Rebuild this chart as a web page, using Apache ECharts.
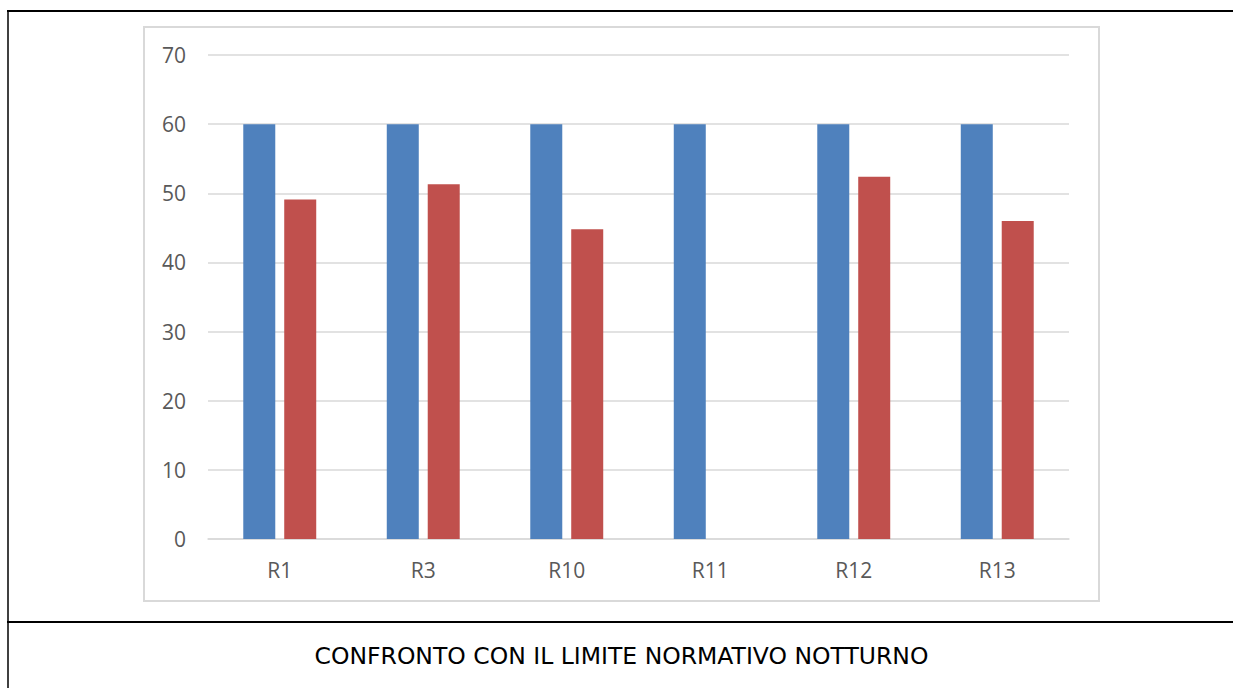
<!DOCTYPE html>
<html>
<head>
<meta charset="utf-8">
<script src="https://cdn.jsdelivr.net/npm/echarts@6/dist/echarts.min.js"></script>
<style>
html,body{margin:0;padding:0;background:#fff;}
#chart{width:1233px;height:688px;}
</style>
</head>
<body>
<div id="chart"></div>
<script>
const categories = ['R1', 'R3', 'R10', 'R11', 'R12', 'R13'];
const limitValues = [60, 60, 60, 60, 60, 60];
const measuredValues = [49.1, 51.3, 44.8, null, 52.4, 46.0];
const yTicks = { min: 0, max: 70, interval: 10 };
const titleText = 'CONFRONTO CON IL LIMITE NORMATIVO NOTTURNO';

const chart = echarts.init(document.getElementById('chart'), null, { renderer: 'svg' });
chart.setOption({
  animation: false,
  backgroundColor: '#ffffff',
  grid: { left: 208, right: 164, top: 55, bottom: 149 },
  xAxis: {
    type: 'category',
    data: categories,
    axisLine: { show: true, lineStyle: { color: '#d9d9d9', width: 1.5 } },
    axisTick: { show: false },
    axisLabel: { color: '#595959', fontFamily: 'Open Sans', fontSize: 21, margin: 20 }
  },
  yAxis: {
    type: 'value',
    min: yTicks.min, max: yTicks.max, interval: yTicks.interval,
    axisLine: { show: false },
    axisTick: { show: false },
    splitLine: { lineStyle: { color: '#d9d9d9', width: 1.5 } },
    axisLabel: { color: '#595959', fontFamily: 'Open Sans', fontSize: 21, margin: 22 }
  },
  series: [
    {
      name: 'Limite', type: 'bar', data: limitValues,
      barWidth: 32, barGap: '28%',
      itemStyle: { color: '#4F81BD' }
    },
    {
      name: 'Misurato', type: 'bar', data: measuredValues,
      barWidth: 32, barGap: '28%',
      itemStyle: { color: '#C0504D' }
    }
  ],
  graphic: [
    { type: 'rect', silent: true, shape: { x: 144, y: 27, width: 955, height: 574 },
      style: { fill: 'none', stroke: '#d9d9d9', lineWidth: 2 } },
    { type: 'line', silent: true, shape: { x1: 7, y1: 11, x2: 1233, y2: 11 },
      style: { stroke: '#000', lineWidth: 2 } },
    { type: 'line', silent: true, shape: { x1: 8, y1: 10, x2: 8, y2: 688 },
      style: { stroke: '#000', lineWidth: 1.5 } },
    { type: 'line', silent: true, shape: { x1: 7, y1: 622, x2: 1233, y2: 622 },
      style: { stroke: '#000', lineWidth: 2 } },
    { type: 'text', silent: true, x: 621.5, y: 656,
      style: { text: titleText, fill: '#000', fontSize: 23.5, fontFamily: 'DejaVu Sans',
               align: 'center', verticalAlign: 'middle' } }
  ]
});
</script>
</body>
</html>
